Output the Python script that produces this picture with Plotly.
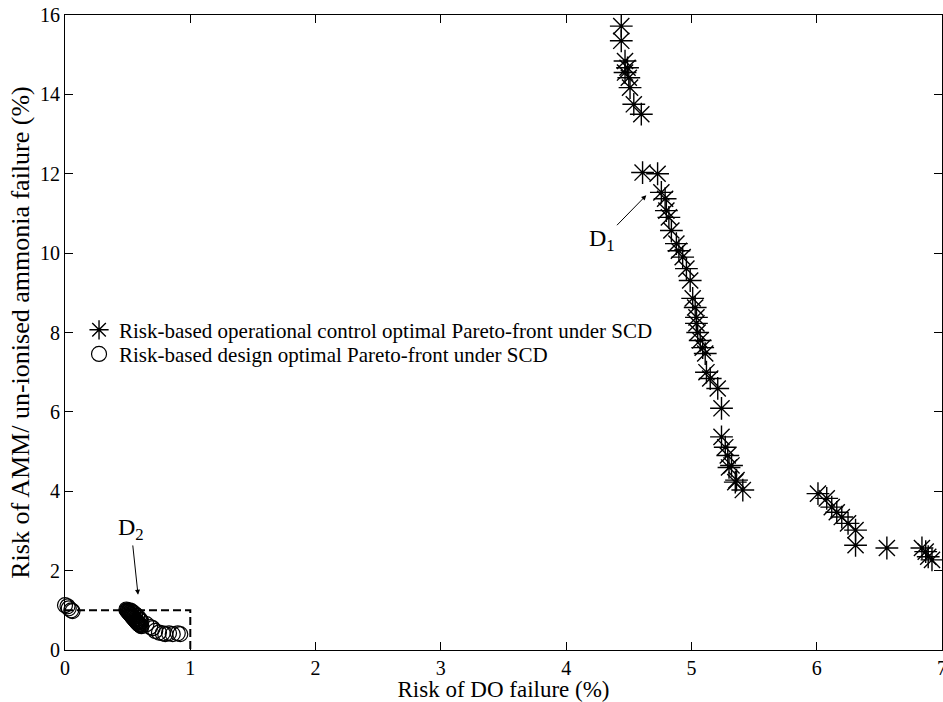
import plotly.graph_objects as go

# Risk-based operational control Pareto front (DO risk %, AMM risk %)
ctrl_do = [4.44, 4.44, 4.47, 4.49, 4.47, 4.50, 4.51, 4.54, 4.60,
           4.61, 4.73, 4.76, 4.79, 4.80, 4.82, 4.84, 4.88, 4.90, 4.93, 4.96, 4.99,
           5.01, 5.03, 5.04, 5.04, 5.05, 5.07, 5.09, 5.11, 5.12, 5.15, 5.21, 5.24,
           5.24, 5.27, 5.29, 5.30, 5.32, 5.35, 5.36, 5.41,
           6.01, 6.08, 6.12, 6.16, 6.20, 6.25, 6.31, 6.31, 6.56, 6.84, 6.87, 6.89, 6.92]
ctrl_amm = [15.72, 15.35, 14.84, 14.67, 14.55, 14.42, 14.17, 13.75, 13.50,
            12.03, 12.00, 11.53, 11.37, 11.07, 10.90, 10.57, 10.24, 10.06, 9.90, 9.61, 9.31,
            8.86, 8.63, 8.38, 8.23, 8.00, 7.80, 7.62, 7.47, 7.00, 6.84, 6.59, 6.09,
            5.37, 5.11, 4.90, 4.60, 4.65, 4.23, 4.28, 4.03,
            3.94, 3.82, 3.60, 3.47, 3.35, 3.19, 3.02, 2.64, 2.57, 2.57, 2.48, 2.35, 2.27]

# Risk-based design Pareto front (DO risk %, AMM risk %)
design_do = [0.00, 0.02, 0.03, 0.05, 0.06,
             0.490, 0.495, 0.500, 0.503, 0.507, 0.511, 0.515, 0.519, 0.523, 0.527,
             0.531, 0.535, 0.539, 0.543, 0.547, 0.551, 0.555, 0.559, 0.563, 0.567,
             0.571, 0.575, 0.579, 0.583, 0.587, 0.591, 0.595, 0.600, 0.605, 0.610,
             0.515, 0.530, 0.545, 0.560, 0.575, 0.590, 0.600, 0.610,
             0.65, 0.68, 0.70, 0.72, 0.75, 0.78, 0.80, 0.83, 0.86, 0.90, 0.92]
design_amm = [1.13, 1.10, 1.05, 1.00, 0.98,
              1.02, 1.00, 0.99, 0.97, 0.96, 0.94, 0.93, 0.91, 0.90, 0.88,
              0.87, 0.85, 0.84, 0.82, 0.81, 0.79, 0.78, 0.76, 0.75, 0.73,
              0.72, 0.70, 0.69, 0.68, 0.66, 0.65, 0.64, 0.63, 0.62, 0.60,
              1.00, 0.98, 0.94, 0.90, 0.86, 0.80, 0.76, 0.72,
              0.65, 0.58, 0.55, 0.48, 0.44, 0.42, 0.40, 0.42, 0.40, 0.42, 0.40]

# Acceptable-risk box (DO risk limit, AMM risk limit)
box_do = [0, 1, 1]
box_amm = [1, 1, 0]

x_ticks = [0, 1, 2, 3, 4, 5, 6, 7]
y_ticks = [0, 2, 4, 6, 8, 10, 12, 14, 16]

FONT = "Liberation Serif"

fig = go.Figure()

fig.add_trace(go.Scatter(
    x=box_do, y=box_amm, mode="lines",
    line=dict(color="black", width=2, dash="8px,4px"),
    showlegend=False, hoverinfo="skip"))

fig.add_trace(go.Scatter(
    x=ctrl_do, y=ctrl_amm, mode="markers", cliponaxis=False,
    name="Risk-based operational control optimal Pareto-front under SCD",
    legend="legend",
    marker=dict(symbol="asterisk-open", size=19, color="black",
                line=dict(color="black", width=1.4))))

fig.add_trace(go.Scatter(
    x=design_do, y=design_amm, mode="markers", cliponaxis=False,
    name="Risk-based design optimal Pareto-front under SCD",
    legend="legend2",
    marker=dict(symbol="circle-open", size=15, color="black",
                line=dict(color="black", width=1.2))))

# Labelled design points, each with a pointer arrow
fig.add_annotation(x=4.64, y=11.46, ax=4.29, ay=10.33, axref="x", ayref="y",
                   xref="x", yref="y", text="D<sub>1</sub>", showarrow=True,
                   arrowhead=2, arrowsize=1, arrowwidth=1, arrowcolor="black",
                   font=dict(family=FONT, size=24, color="black"))
fig.add_annotation(x=0.583, y=1.39, ax=0.527, ay=3.05, axref="x", ayref="y",
                   xref="x", yref="y", text="D<sub>2</sub>", showarrow=True,
                   arrowhead=2, arrowsize=1, arrowwidth=1, arrowcolor="black",
                   font=dict(family=FONT, size=24, color="black"))

axis_common = dict(
    showline=True, linecolor="black", linewidth=1, mirror="ticks",
    ticks="inside", ticklen=8, tickwidth=1, tickcolor="black",
    showgrid=False, zeroline=False, ticklabeloverflow="allow",
    tickfont=dict(family=FONT, size=20, color="black"),
)

fig.update_xaxes(range=[0, 7], tickvals=x_ticks, ticktext=[str(v) for v in x_ticks],
                 title=dict(text="Risk of DO failure (%)", standoff=4,
                            font=dict(family=FONT, size=23, color="black")),
                 **axis_common)
fig.update_yaxes(range=[0, 16], tickvals=y_ticks, ticktext=[str(v) for v in y_ticks],
                 title=dict(text="Risk of AMM/ un-ionised ammonia failure (%)", standoff=2,
                            font=dict(family=FONT, size=26, color="black")),
                 **axis_common)

legend_common = dict(xanchor="left", yanchor="top", bgcolor="rgba(0,0,0,0)",
                     font=dict(family=FONT, size=21, color="black"),
                     itemsizing="trace")

fig.update_layout(
    width=943, height=702,
    margin=dict(l=65, r=1, t=15, b=52, autoexpand=False),
    paper_bgcolor="white", plot_bgcolor="white",
    font=dict(family=FONT, color="black"),
    legend=dict(x=0.016, y=0.536, **legend_common),
    legend2=dict(x=0.016, y=0.498, **legend_common),
)

fig.write_html("out.html")
